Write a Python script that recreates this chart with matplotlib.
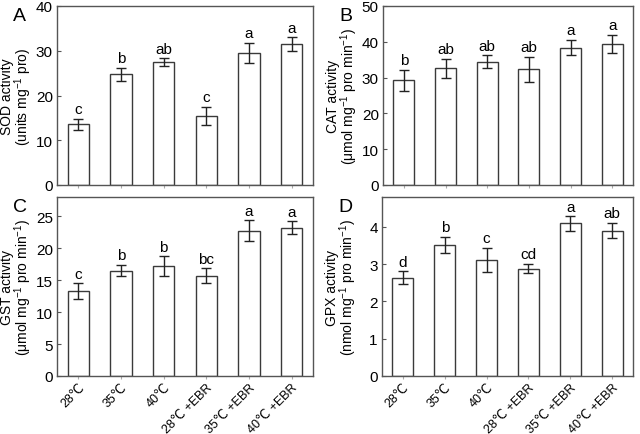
import matplotlib
matplotlib.use("Agg")
import matplotlib.pyplot as plt
import numpy as np

plt.rcParams['font.family'] = ['Liberation Sans', 'DejaVu Sans']
plt.rcParams['mathtext.fontset'] = 'custom'
plt.rcParams['mathtext.rm'] = 'Liberation Sans'
plt.rcParams['mathtext.it'] = 'Liberation Sans:italic'
plt.rcParams['mathtext.bf'] = 'Liberation Sans:bold'

categories = ["28℃", "35℃", "40℃", "28℃ +EBR", "35℃ +EBR", "40℃ +EBR"]

sod = [13.6, 24.7, 27.4, 15.4, 29.5, 31.5]
sod_err = [1.2, 1.5, 0.9, 2.0, 2.3, 1.5]
sod_sig = ["c", "b", "ab", "c", "a", "a"]

cat = [29.2, 32.6, 34.4, 32.3, 38.4, 39.5]
cat_err = [3.0, 2.6, 1.8, 3.5, 2.1, 2.5]
cat_sig = ["b", "ab", "ab", "ab", "a", "a"]

gst = [13.3, 16.5, 17.2, 15.7, 22.7, 23.2]
gst_err = [1.2, 0.85, 1.5, 1.15, 1.65, 1.0]
gst_sig = ["c", "b", "b", "bc", "a", "a"]

gpx = [2.64, 3.51, 3.11, 2.88, 4.09, 3.90]
gpx_err = [0.17, 0.22, 0.33, 0.12, 0.19, 0.21]
gpx_sig = ["d", "b", "c", "cd", "a", "ab"]

W, H = 640, 435
fig = plt.figure(figsize=(6.4, 4.35), dpi=100)

def ax_rect(l, t, r, b):
    return [l / W, 1 - b / H, (r - l) / W, (b - t) / H]

panels = [
    ("A", ax_rect(57, 7, 313, 186), sod, sod_err, sod_sig, (0, 40), [0, 10, 20, 30, 40],
     "SOD activity\n(units mg$^{-1}$ pro)", False),
    ("B", ax_rect(383, 7, 633, 186), cat, cat_err, cat_sig, (0, 50), [0, 10, 20, 30, 40, 50],
     "CAT activity\n(μmol mg$^{-1}$ pro min$^{-1}$)", False),
    ("C", ax_rect(57, 198, 313, 377), gst, gst_err, gst_sig, (0, 28), [0, 5, 10, 15, 20, 25],
     "GST activity\n(μmol mg$^{-1}$ pro min$^{-1}$)", True),
    ("D", ax_rect(382, 198, 633, 377), gpx, gpx_err, gpx_sig, (0, 4.8), [0, 1, 2, 3, 4],
     "GPX activity\n(nmol mg$^{-1}$ pro min$^{-1}$)", True),
]

edge = "#3a3a3a"
x = np.arange(len(categories))
for label, rect, vals, errs, sigs, ylim, yticks, ylabel, show_x in panels:
    ax = fig.add_axes(rect)
    ax.bar(x, vals, width=0.5, color="white", edgecolor=edge, linewidth=1.0, zorder=2)
    ax.errorbar(x, vals, yerr=errs, fmt="none", ecolor="#222222", elinewidth=1.0,
                capsize=3.5, capthick=1.0, zorder=3)
    span = ylim[1] - ylim[0]
    for xi, v, e, s in zip(x, vals, errs, sigs):
        ax.text(xi, v + e + span * 0.015, s, ha="center", va="bottom", fontsize=11)
    ax.set_xlim(-0.5, 5.5)
    ax.set_ylim(*ylim)
    ax.set_yticks(yticks)
    ax.set_ylabel(ylabel, fontsize=10, linespacing=0.9)
    axw = rect[2] * W
    ax.yaxis.set_label_coords(-23 / axw, 0.5)
    ax.tick_params(axis="y", direction="in", length=3, labelsize=11, pad=3, color="#555555")
    ax.set_xticks(x)
    if show_x:
        ax.set_xticklabels(categories, rotation=45, ha="right", rotation_mode="anchor",
                           fontsize=9)
    else:
        ax.set_xticklabels([])
    ax.tick_params(axis="x", direction="out", length=2, color="#aaaaaa", pad=1.5)
    for sp in ax.spines.values():
        sp.set_color("#555555")
        sp.set_linewidth(1.0)
    fig.text(rect[0] - 44 / W, rect[1] + rect[3] - 1 / H, label, fontsize=14,
             ha="left", va="top")

fig.savefig("out.png", dpi=100)
